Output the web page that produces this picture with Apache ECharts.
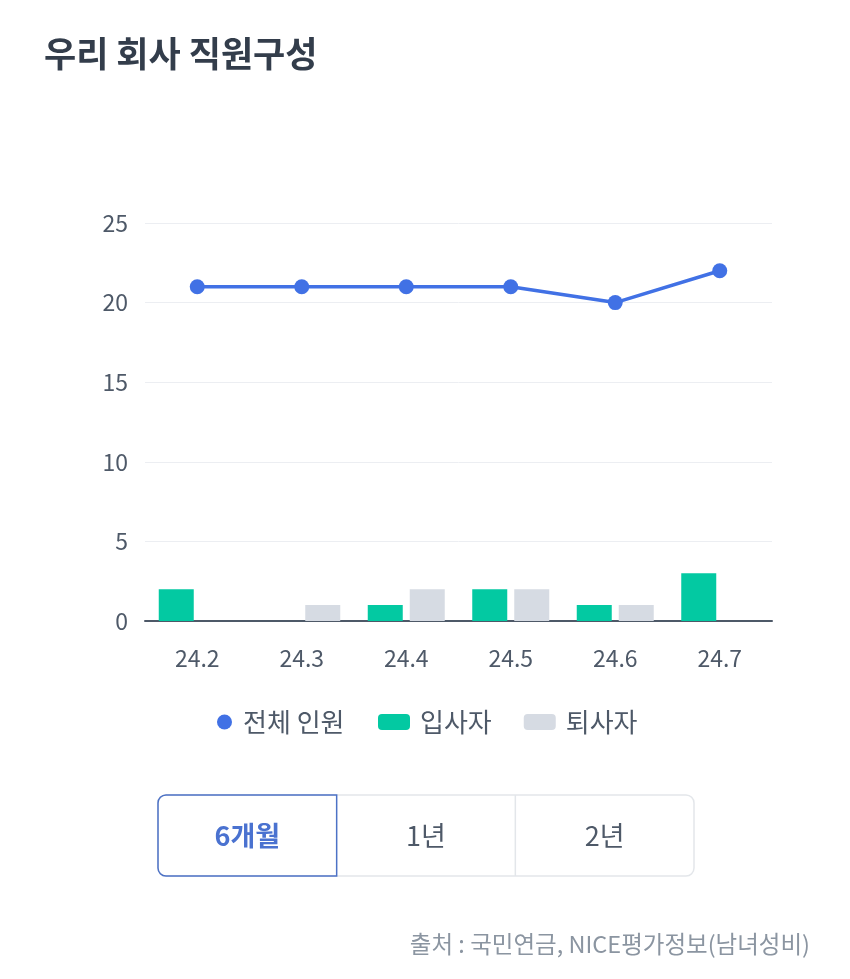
<!DOCTYPE html>
<html>
<head>
<meta charset="utf-8">
<script src="https://cdn.jsdelivr.net/npm/echarts@6/dist/echarts.min.js"></script>
<style>
html,body{margin:0;padding:0;background:#fff;}
#chart{width:850px;height:979px;}
</style>
</head>
<body>
<div id="chart"></div>
<script>
var categories = ['24.2', '24.3', '24.4', '24.5', '24.6', '24.7'];
var totalStaff = [21, 21, 21, 21, 20, 22];
var hires = [2, 0, 1, 2, 1, 3];
var leavers = [0, 1, 2, 2, 1, 0];
var yTicks = [0, 5, 10, 15, 20, 25];
var seriesNames = ['전체 인원', '입사자', '퇴사자'];
var periodButtons = ['6개월', '1년', '2년'];
var titleText = '우리 회사 직원구성';
var sourceText = '출처 : 국민연금, NICE평가정보(남녀성비)';

var FONT = '"Noto Sans CJK KR", "Noto Sans", sans-serif';
var chart = echarts.init(document.getElementById('chart'));

var btnX = 158, btnY = 795, btnW = 536, btnH = 81, segW = btnW / 3;
var graphics = [
  {type:'rect', shape:{x:btnX, y:btnY, width:btnW, height:btnH, r:8}, style:{fill:'#fff', stroke:'#e3e6ea', lineWidth:1.5}},
  {type:'line', shape:{x1:btnX+segW*2, y1:btnY, x2:btnX+segW*2, y2:btnY+btnH}, style:{stroke:'#e3e6ea', lineWidth:1.5}},
  {type:'rect', shape:{x:btnX, y:btnY, width:segW, height:btnH, r:[8,0,0,8]}, style:{fill:'none', stroke:'#4d72c6', lineWidth:1.5}, z:10}
];
periodButtons.forEach(function(t, i){
  graphics.push({type:'text', x:btnX + segW*i + segW/2, y:btnY + btnH/2, z:11,
    style:{text:t, fill: i===0 ? '#4a72d0' : '#4e5968', font:(i===0?'bold ':'')+'27px '+FONT, textAlign:'center', textVerticalAlign:'middle'}});
});
graphics.push({type:'text', right:40, top:932, style:{text:sourceText, fill:'#8b95a1', font:'23.5px '+FONT}});

var legendText = {fontSize:26, color:'#4e5968', fontFamily:FONT};

chart.setOption({
  backgroundColor:'#fff',
  animation:false,
  title:{text:titleText, left:39, top:31, textStyle:{fontSize:35, fontWeight:'bold', color:'#333d4b', fontFamily:FONT}},
  legend:[
    {
      top:709, left:217, padding:0, itemWidth:15, itemHeight:15,
      textStyle:Object.assign({padding:[0,0,0,6]}, legendText),
      data:[{name:seriesNames[0], icon:'circle'}]
    },
    {
      top:709, left:378, padding:0, itemWidth:32, itemHeight:16, itemGap:32,
      textStyle:Object.assign({padding:[0,0,0,5]}, legendText),
      data:[{name:seriesNames[1], icon:'roundRect'}, {name:seriesNames[2], icon:'roundRect'}]
    }
  ],
  grid:{left:145, right:78, top:223, bottom:358, containLabel:false},
  xAxis:{
    type:'category', data:categories,
    axisLine:{lineStyle:{color:'#4e5968', width:2}},
    axisTick:{show:false},
    axisLabel:{fontSize:23, color:'#4e5968', margin:26, fontFamily:FONT}
  },
  yAxis:{
    type:'value', min:yTicks[0], max:yTicks[yTicks.length-1], interval:5,
    axisLine:{show:false}, axisTick:{show:false},
    axisLabel:{fontSize:23, color:'#4e5968', margin:17, fontFamily:FONT},
    splitLine:{lineStyle:{color:'#eceef2', width:1}}
  },
  series:[
    {name:seriesNames[0], type:'line', data:totalStaff, symbol:'circle', symbolSize:15,
      itemStyle:{color:'#4171e5'}, lineStyle:{color:'#4171e5', width:3.5}, z:5},
    {name:seriesNames[1], type:'bar', data:hires, barWidth:35, barGap:'20%',
      itemStyle:{color:'#03c9a2'}},
    {name:seriesNames[2], type:'bar', data:leavers, barWidth:35, barGap:'20%',
      itemStyle:{color:'#d6dbe3'}}
  ],
  graphic:graphics
});
</script>
</body>
</html>
